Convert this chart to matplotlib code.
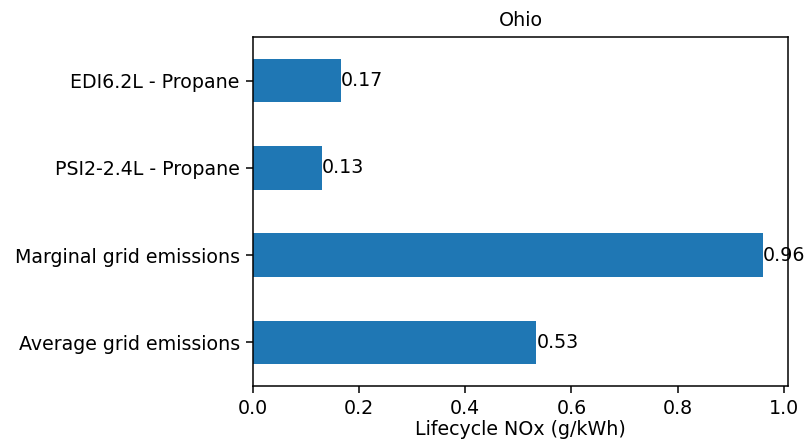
import matplotlib
matplotlib.use("Agg")
import matplotlib.pyplot as plt

categories = ["Average grid emissions", "Marginal grid emissions", "PSI2-2.4L - Propane", "EDI6.2L - Propane"]
values = [0.534, 0.960, 0.130, 0.166]
title = "Ohio"
xlabel = "Lifecycle NOx (g/kWh)"

DPI = 137
fig = plt.figure(figsize=(809/DPI, 440/DPI), dpi=DPI)
ax = fig.add_axes([253/809, 1 - 386/440, (788-253)/809, (386-37)/440])
ax.barh(range(len(categories)), values, height=0.5, color="#1f77b4")
ax.set_yticks(range(len(categories)))
ax.set_yticklabels(categories)
ax.set_ylim(-0.5, len(categories) - 0.5)
ax.set_xlim(0, max(values) * 1.05)
for i, v in enumerate(values):
    ax.text(v, i, f"{v:.2f}", va="center", ha="left")
ax.set_title(title, fontsize=10)
ax.set_xlabel(xlabel, labelpad=1)
fig.savefig("out.png", dpi=DPI)
